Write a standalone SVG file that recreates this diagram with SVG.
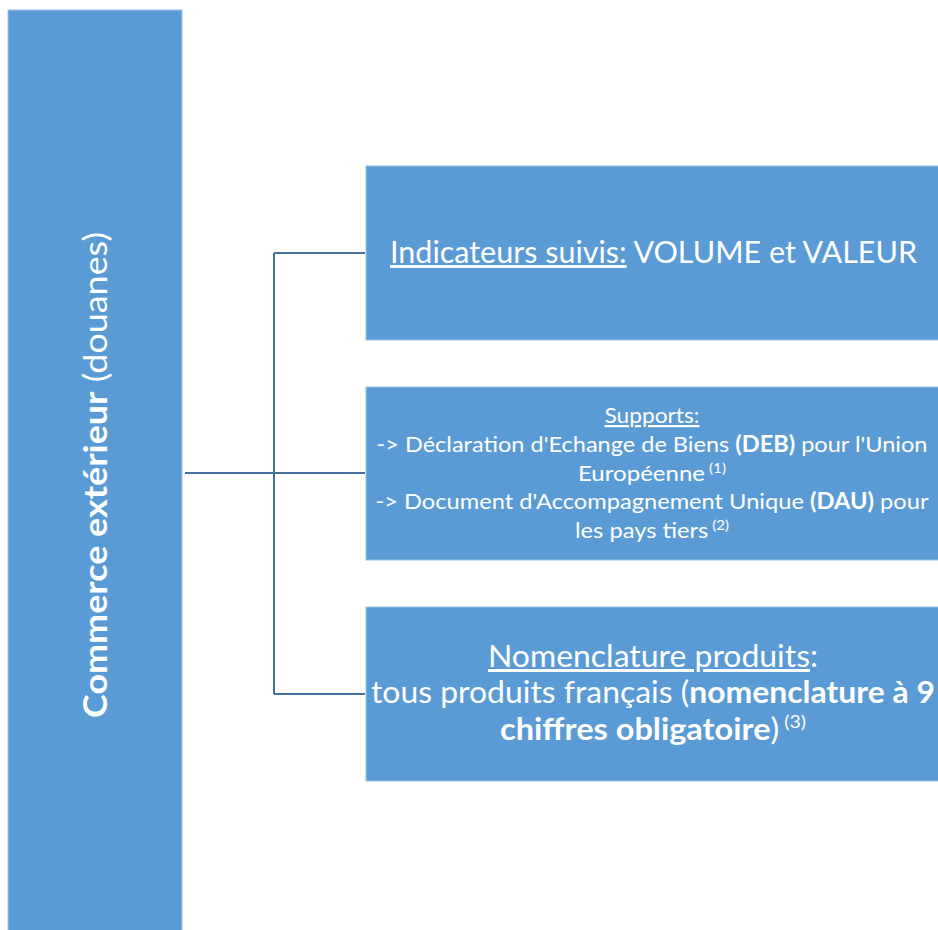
<svg xmlns="http://www.w3.org/2000/svg" width="938" height="930" viewBox="0 0 938 930">
<style>
.box{fill:#5b9bd5;stroke:#9dc3e6;stroke-width:1}
.t{font-family:Lato,"Liberation Sans",sans-serif;fill:#ffffff}
.b{font-weight:bold}
.u{text-decoration:underline}
.conn{stroke:#41719c;stroke-width:2;fill:none}
</style>
<rect width="938" height="930" fill="#ffffff"/>
<g id="connectors">
<path class="conn" d="M185,473 H274 M274,253 V694 M274,253 H365 M274,473 H365 M274,694 H365"/>
</g>
<g id="root">
<rect class="box" x="8" y="10" width="174" height="925"/>
<text class="t" font-size="32" transform="translate(107,475) rotate(-90)" text-anchor="middle" textLength="486" lengthAdjust="spacingAndGlyphs"><tspan class="b">Commerce extérieur</tspan> (douanes)</text>
</g>
<g id="indicateurs">
<rect class="box" x="366" y="166" width="580" height="174"/>
<text class="t" font-size="30" x="390" y="263" textLength="527" lengthAdjust="spacingAndGlyphs"><tspan class="u">Indicateurs suivis:</tspan> VOLUME et VALEUR</text>
</g>
<g id="supports">
<rect class="box" x="366" y="387" width="580" height="173"/>
<g class="t" font-size="22" text-anchor="middle">
<text x="652" y="423" class="t u" textLength="95" lengthAdjust="spacingAndGlyphs">Supports:</text>
<text x="652" y="452" class="t" textLength="551" lengthAdjust="spacingAndGlyphs">-&gt; Déclaration d'Echange de Biens <tspan class="b">(DEB)</tspan> pour l'Union</text>
<text x="652" y="481" class="t" textLength="148" lengthAdjust="spacingAndGlyphs">Européenne<tspan font-size="14" dy="-8"> (1)</tspan></text>
<text x="652" y="509" class="t" textLength="553" lengthAdjust="spacingAndGlyphs">-&gt; Document d'Accompagnement Unique <tspan class="b">(DAU)</tspan> pour</text>
<text x="652" y="538" class="t" textLength="154" lengthAdjust="spacingAndGlyphs">les pays tiers<tspan font-size="14" dy="-8"> (2)</tspan></text>
</g>
</g>
<g id="nomenclature">
<rect class="box" x="366" y="607" width="580" height="174"/>
<g font-size="30" text-anchor="middle">
<text x="653" y="667" class="t" textLength="330" lengthAdjust="spacingAndGlyphs"><tspan class="u">Nomenclature produits</tspan>:</text>
<text x="653" y="703" class="t" textLength="564" lengthAdjust="spacingAndGlyphs">tous produits français (<tspan class="b">nomenclature à 9</tspan></text>
<text x="653" y="740" class="t" textLength="306" lengthAdjust="spacingAndGlyphs"><tspan class="b">chiffres obligatoire</tspan>)<tspan font-size="18" dy="-12"> (3)</tspan></text>
</g>
</g>
</svg>
